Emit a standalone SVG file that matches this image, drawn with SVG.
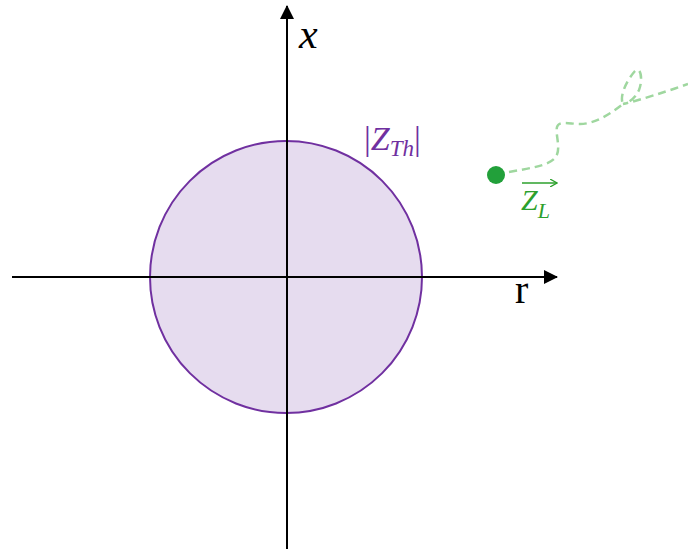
<svg xmlns="http://www.w3.org/2000/svg" width="688" height="552" viewBox="0 0 688 552">
<style>
.axis{stroke:#000;stroke-width:2;fill:none}
.lbl{font-family:"Liberation Serif","Times New Roman",serif}
.it{font-style:italic}
</style>
<defs>
<marker id="ah" viewBox="0 0 14 14" refX="13" refY="7" markerWidth="14" markerHeight="14" markerUnits="userSpaceOnUse" orient="auto">
<path d="M0,0 L14,7 L0,14 Z" fill="#000"/>
</marker>
<marker id="gah" viewBox="0 0 8 8" refX="7" refY="4" markerWidth="8" markerHeight="8" markerUnits="userSpaceOnUse" orient="auto">
<path d="M0,0 L7,4 L0,8" fill="none" stroke="#2ca02c" stroke-width="1.3"/>
</marker>
</defs>
<rect width="688" height="552" fill="#fff"/>
<g id="circle">
<circle cx="286" cy="277" r="136" fill="#e6dcef" stroke="#7030a0" stroke-width="2"/>
</g>
<g id="connectors">
<line class="axis" x1="287" y1="549" x2="287" y2="6" marker-end="url(#ah)"/>
<line class="axis" x1="12" y1="277" x2="557" y2="277" marker-end="url(#ah)"/>
<path d="M509 172 C530 168,548 166,555 158 C562 150,555 135,557 127 C559 120,570 124,580 124 C595 124,610 114,623 104 C619 96,627 80,635 71 C641 66,643 80,639 90 C635 99,628 103,623 104 C640 100,665 92,688 84" fill="none" stroke="#9fd79f" stroke-width="2.5" stroke-dasharray="8 5"/>
</g>
<g id="label-x"><text class="lbl it" x="299" y="48" font-size="42">x</text></g>
<g id="label-r"><text class="lbl" x="515" y="303" font-size="40">r</text></g>
<g id="label-zth" fill="#7030a0">
<text class="lbl" x="364" y="150" font-size="34">|<tspan class="it">Z</tspan><tspan class="it" font-size="23" dy="6">Th</tspan><tspan dy="-6">|</tspan></text>
</g>
<g id="zl">
<circle cx="496" cy="175" r="9" fill="#22a03a"/>
<line x1="522" y1="183" x2="557" y2="183" stroke="#2ca02c" stroke-width="1.5" marker-end="url(#gah)"/>
<text class="lbl it" x="521" y="210" font-size="30" fill="#2ca02c">Z<tspan font-size="22" dy="8">L</tspan></text>
</g>
</svg>
